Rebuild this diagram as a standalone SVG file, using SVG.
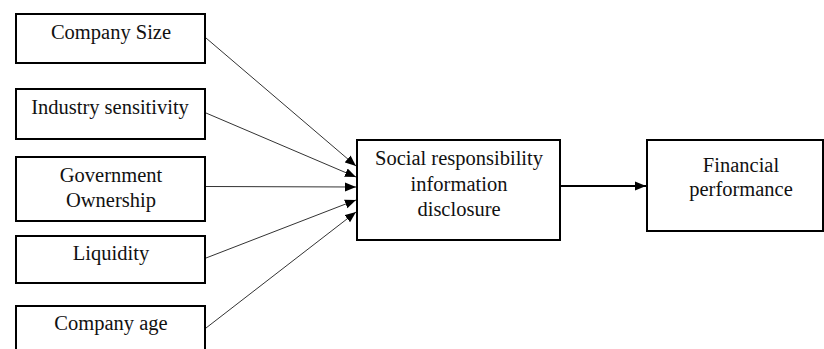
<svg xmlns="http://www.w3.org/2000/svg" width="824" height="349" viewBox="0 0 824 349">
<style>
.box{fill:#fff;stroke:#000;stroke-width:2}
.t{font-family:'Liberation Serif','Times New Roman',serif;font-size:20.5px;fill:#111;text-anchor:middle}
.thin{stroke:#333;stroke-width:1;fill:none}
.thick{stroke:#000;stroke-width:2;fill:none}
</style>
<defs>
<marker id="ah" markerUnits="userSpaceOnUse" markerWidth="12" markerHeight="10" refX="11" refY="5" orient="auto">
<path d="M0,0.5 L11,5 L0,9.5 Z" fill="#000"/>
</marker>
</defs>
<rect width="824" height="349" fill="#fff"/>
<g id="n1"><rect class="box" x="16" y="14" width="189" height="49"/><text class="t" x="111" y="39">Company Size</text></g>
<g id="n2"><rect class="box" x="16" y="89" width="189" height="50"/><text class="t" x="110" y="114">Industry sensitivity</text></g>
<g id="n3"><rect class="box" x="16" y="157" width="189" height="64"/><text class="t" x="111" y="182">Government</text><text class="t" x="111" y="207">Ownership</text></g>
<g id="n4"><rect class="box" x="16" y="236" width="189" height="47"/><text class="t" x="111" y="260">Liquidity</text></g>
<g id="n5"><rect class="box" x="16" y="306" width="189" height="52"/><text class="t" x="111" y="330">Company age</text></g>
<g id="n6"><rect class="box" x="357" y="140" width="203" height="100"/><text class="t" x="459" y="165">Social responsibility</text><text class="t" x="459" y="191">information</text><text class="t" x="459" y="216">disclosure</text></g>
<g id="n7"><rect class="box" x="647" y="140" width="176" height="91"/><text class="t" x="741" y="172">Financial</text><text class="t" x="741" y="196">performance</text></g>
<g id="connectors">
<line class="thin" x1="206" y1="38" x2="356" y2="166" marker-end="url(#ah)"/>
<line class="thin" x1="206" y1="113" x2="356" y2="177" marker-end="url(#ah)"/>
<line class="thin" x1="206" y1="186.5" x2="356" y2="187" marker-end="url(#ah)"/>
<line class="thin" x1="206" y1="258" x2="356" y2="200" marker-end="url(#ah)"/>
<line class="thin" x1="206" y1="328" x2="356" y2="212" marker-end="url(#ah)"/>
<line class="thick" x1="561" y1="186" x2="646" y2="186" marker-end="url(#ah)"/>
</g>
</svg>
